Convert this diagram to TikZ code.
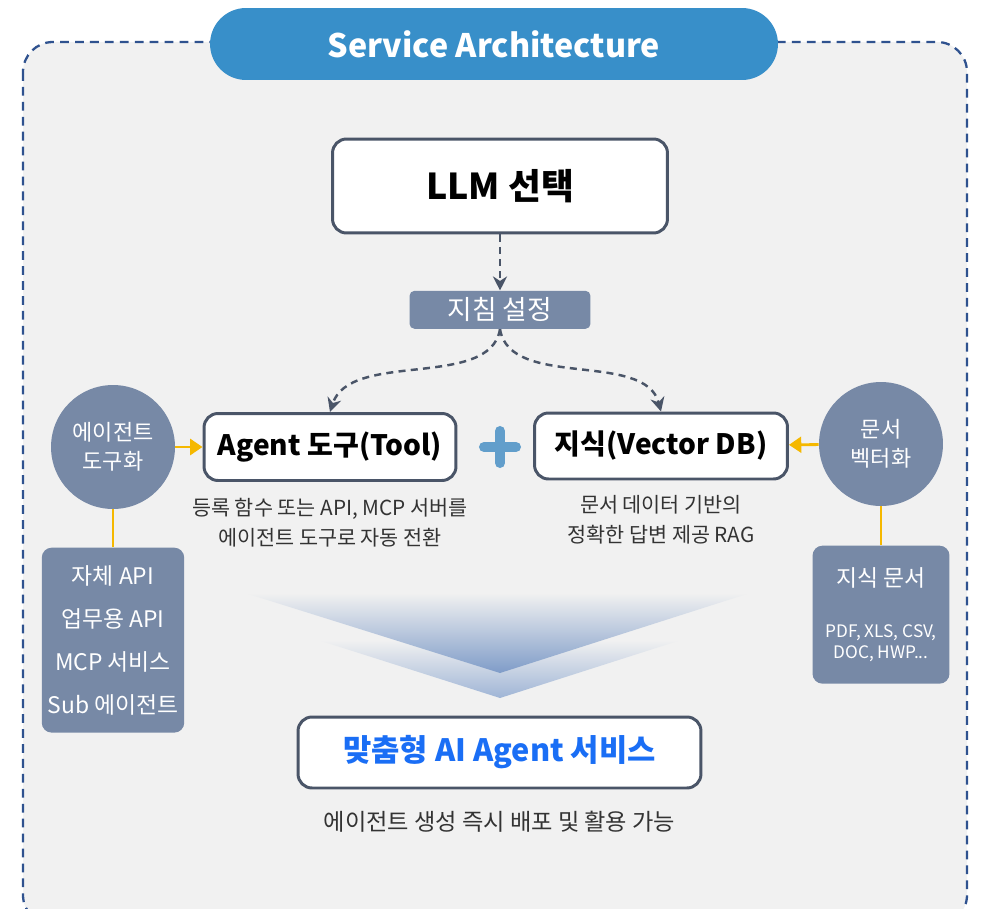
\documentclass[tikz,border=0pt]{standalone}
\usepackage{fontspec}
\setmainfont{Noto Sans CJK KR}
\usetikzlibrary{positioning, arrows.meta}
\definecolor{bgcol}{HTML}{F1F1F1}
\definecolor{framecol}{HTML}{2F528F}
\definecolor{titlecol}{HTML}{388FC9}
\definecolor{slate}{HTML}{4A5568}
\definecolor{greyblue}{HTML}{7789A6}
\definecolor{ylw}{HTML}{F5B800}
\definecolor{bluetext}{HTML}{1A6EF5}
\definecolor{desccol}{HTML}{333333}
\definecolor{pluscol}{HTML}{3F8AC2}
\definecolor{chevcol}{HTML}{7F9CC8}

\begin{document}
\begin{tikzpicture}[x=0.02cm,y=-0.02cm,
    mainbox/.style={draw=slate,line width=1.7pt,fill=white,rounded corners=0.28cm,font=\bfseries\fontsize{16}{19}\selectfont},
    greybox/.style={fill=greyblue,text=white,rounded corners=0.2cm,align=center},
    greycirc/.style={circle,fill=greyblue,text=white,minimum size=2.48cm,inner sep=0pt,align=center,font=\fontsize{12.5}{16.6}\selectfont},
    desc/.style={text=desccol,align=center,font=\fontsize{11.8}{17}\selectfont},
    dasharrow/.style={draw=slate,line width=1.4pt,dash pattern=on 4pt off 3pt,-{Stealth[length=8pt,width=8pt]}},
    yarrow/.style={draw=ylw,line width=1.6pt,-{Triangle[length=7pt,width=9pt]}},
    yline/.style={draw=ylw,line width=1.6pt}]
    \useasboundingbox (0,0) rectangle (981,909);
    \fill[white] (0,0) rectangle (981,909);
    \draw[framecol,fill=bgcol,line width=1.3pt,dash pattern=on 5pt off 3.5pt,rounded corners=0.6cm] (23,42) rectangle (967,925);

    \node[fill=titlecol,text=white,rounded corners=0.72cm,minimum width=11.36cm,minimum height=1.44cm,font=\bfseries\fontsize{18.4}{22}\selectfont] (title) at (494,44) {Service Architecture};

    \shade[top color=bgcol,bottom color=chevcol!75] (318,640) -- (681,640) -- (500,698) -- cycle;
    \shade[top color=bgcol,bottom color=chevcol] (245,593) -- (750,593) -- (500,673) -- cycle;

    \node[mainbox,minimum width=6.7cm,minimum height=1.88cm,font=\bfseries\fontsize{20.3}{24}\selectfont] (llm) at (500,186) {LLM 선택};
    \node[greybox,below=1.12cm of llm,minimum width=3.62cm,minimum height=0.76cm,rounded corners=0.1cm,font=\fontsize{15.2}{17}\selectfont] (guide) {지침 설정};
    \node[mainbox,minimum width=5.04cm,minimum height=1.34cm] (tool) at (330,447) {Agent 도구(Tool)};
    \node[mainbox,minimum width=5.06cm,minimum height=1.32cm] (vdb) at (661,446) {지식(Vector DB)};
    \draw[pluscol,opacity=0.8,line width=5.7pt,line cap=round] (484,447) -- (516,447) (500,431) -- (500,463);

    \node[greycirc] (lcirc) at (113,447) {에이전트\\도구화};
    \node[greycirc] (rcirc) at (881,444) {문서\\벡터화};
    \node[greybox,below=0.76cm of lcirc,minimum width=2.72cm,minimum height=3.7cm,font=\fontsize{13}{24.4}\selectfont] (llist) {자체 API\\업무용 API\\MCP 서비스\\Sub 에이전트};
    \node[greybox,below=0.78cm of rcirc,minimum width=2.74cm,minimum height=2.76cm,font=\fontsize{13}{15}\selectfont] (rlist) {지식 문서\\[0.5cm]{\fontsize{9.8}{10.8}\selectfont PDF, XLS, CSV,}\\[-0.12cm]{\fontsize{9.8}{10.8}\selectfont DOC, HWP...}};

    \node[desc,below=0.2cm of tool] (tooldesc) {등록 함수 또는 API, MCP 서버를\\에이전트 도구로 자동 전환};
    \node[desc,below=0.18cm of vdb] (vdbdesc) {문서 데이터 기반의\\정확한 답변 제공 RAG};

    \node[mainbox,minimum width=8.06cm,minimum height=1.42cm,text=bluetext,font=\bfseries\fontsize{17.5}{21}\selectfont] (service) at (499.5,752.5) {맞춤형 AI Agent 서비스};
    \node[desc,below=0.3cm of service,font=\fontsize{13.2}{16}\selectfont] (servicedesc) {에이전트 생성 즉시 배포 및 활용 가능};

    \draw[dasharrow] (llm) -- (guide);
    \draw[dasharrow] (guide.south) .. controls (490,390) and (350,350) .. (tool.north);
    \draw[dasharrow] (guide.south) .. controls (510,390) and (645,350) .. (vdb.north);
    \draw[yarrow] (lcirc) -- (tool);
    \draw[yarrow] (rcirc) -- (vdb);
    \draw[yline] (lcirc) -- (llist);
    \draw[yline] (rcirc) -- (rlist);
\end{tikzpicture}
\end{document}
